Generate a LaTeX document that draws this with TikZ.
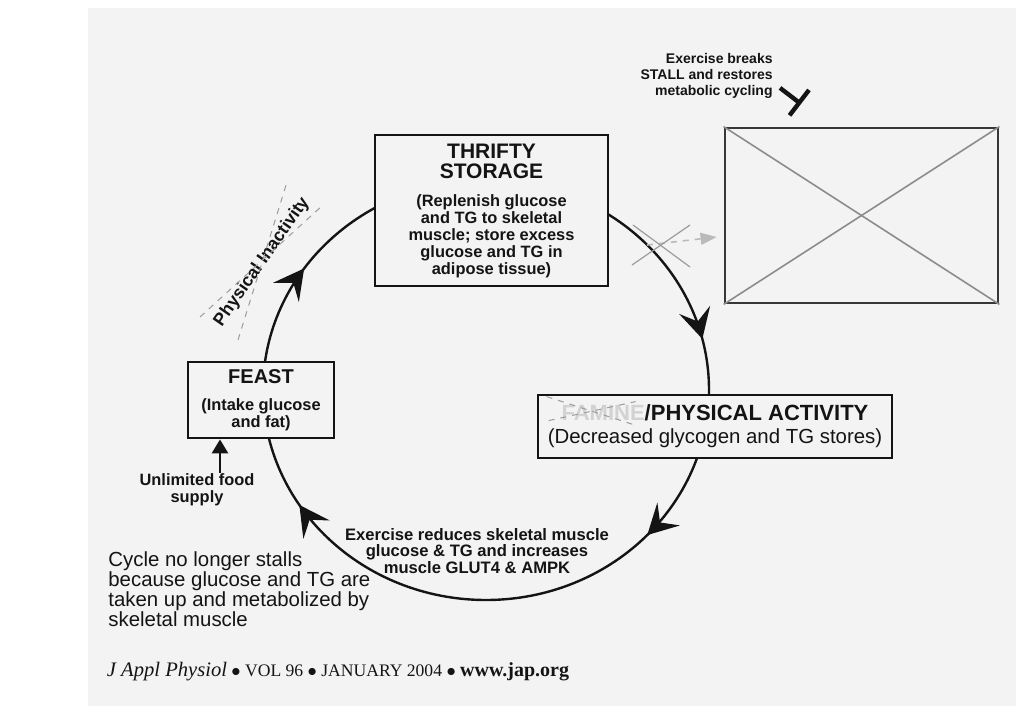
\documentclass[tikz,border=0pt]{standalone}
\usepackage{fontspec}
\setmainfont{Liberation Sans}
\newfontfamily\jfont{Liberation Serif}
\usepackage{tikz}
\usetikzlibrary{
  arrows.meta,
  positioning,
  decorations.markings,
  calc
}
\definecolor{Paper}{HTML}{F3F3F3}
\definecolor{Ink}{HTML}{141414}
\definecolor{Faded}{HTML}{9C9C9C}
\newcommand{\hdfont}[1]{\fontsize{#1}{#1}\selectfont\bfseries}
\tikzset{
  % Cycle arrow head
  cyctip/.tip={Stealth[length=15pt,width=16pt,inset=6pt]},
  % Stage box of the cycle
  stage/.style={
    rectangle, draw=Ink, line width=1.4pt, fill=Paper,
    align=center, inner sep=2pt, text=Ink,
    font=\fontsize{8.2}{8.5}\selectfont\bfseries
  },
  % The cycle itself
  cyc/.style={
    draw=Ink, line width=1.2pt,
    postaction={decorate},
    decoration={markings,
      mark=at position 0.119 with {\arrow{cyctip}},
      mark=at position 0.410 with {\arrow{cyctip}},
      mark=at position 0.596 with {\arrow{cyctip}},
      mark=at position 0.962 with {\arrow{cyctip}}}
  },
  % Plain label
  lbl/.style={text=Ink, align=center, inner sep=0pt,
    font=\fontsize{8.2}{8.5}\selectfont\bfseries},
  % Faded strike-out line
  strike/.style={draw=Faded, dashed, line width=0.5pt},
  % Feeding arrow
  feed/.style={-{Triangle[length=7pt,width=8pt]}, draw=Ink, line width=1.4pt},
  % Blocking bar
  block/.style={-{Bar[width=16pt]}, draw=Ink, line width=2.2pt}
}

\begin{document}
\begin{tikzpicture}[x=0.5pt, y=-0.5pt]

  % ---- PAGE ----
  \useasboundingbox (0,0) rectangle (1016,706);
  \fill[white] (0,0) rectangle (1016,706);
  \fill[Paper] (88,8) rectangle (1016,706);

  % ---- CYCLE ----
  \coordinate (hub) at (486,390);
  \draw[cyc] (hub) ellipse[x radius=223, y radius=210];

  % ---- STAGES ----
  \node[stage, minimum width=116.5pt, minimum height=75.5pt] (thrifty) at (491.5,210.5)
    {\hdfont{10.5}THRIFTY\\[1.5pt]\hdfont{10.5}STORAGE\\[5.5pt]
     (Replenish glucose\\and TG to skeletal\\muscle; store excess\\glucose and TG in\\adipose tissue)};
  \node[stage, minimum width=73pt, minimum height=38pt] (feast) at (261,400)
    {\hdfont{10}FEAST\\[5pt](Intake glucose\\and fat)};
  \node[stage, minimum width=177pt, minimum height=31.5pt,
    font=\fontsize{10.2}{11.5}\selectfont] (physact) at (715,426.5)
    {\hdfont{11}\textcolor{Faded!45}{FAMINE}/PHYSICAL ACTIVITY\\(Decreased glycogen and TG stores)};
  \node[stage, draw=Ink!85, minimum width=136.5pt, minimum height=87.5pt] (stall) at (861.5,215.5) {};

  % ---- LABELS ----
  \node[lbl, rotate=55, font=\fontsize{8.8}{9}\selectfont\bfseries] (inact) at (262,262) {Physical Inactivity};
  \node[lbl] (food) at (197,490) {Unlimited food\\supply};
  \node[lbl, font=\fontsize{8.3}{8.3}\selectfont\bfseries] (exer) at (477,551)
    {Exercise reduces skeletal muscle\\glucose \& TG and increases\\muscle GLUT4 \& AMPK};
  \node[lbl, anchor=north west, align=left, font=\fontsize{10.2}{10}\selectfont] (nostall) at (108,551)
    {Cycle no longer stalls\\because glucose and TG are\\taken up and metabolized by\\skeletal muscle};
  \node[lbl, anchor=north east, align=right, font=\fontsize{7}{8}\selectfont\bfseries] (brk) at (773,53)
    {Exercise breaks\\STALL and restores\\metabolic cycling};
  \node[inner sep=0pt, text=Ink] (cite) at (338,672)
    {\jfont{\fontsize{10.3}{11}\selectfont\itshape J Appl Physiol}%
     {\fontsize{8.8}{11}\selectfont\ $\bullet$ VOL 96 $\bullet$ JANUARY 2004 $\bullet$\ }%
     {\fontsize{10}{11}\selectfont\bfseries www.jap.org}};

  % ---- ARROWS ----
  \draw[feed] ([xshift=11.5pt]food.north) -- ([xshift=11.5pt]food.north |- feast.south);
  \coordinate (blk) at (801,104);
  \draw[block] ([shift={(3.5pt,5.5pt)}]brk.south east) -- (blk);
  \coordinate (leak) at (647,245);
  \draw[-{Triangle[length=8pt,width=6pt]}, draw=Faded!70, dashed, line width=0.8pt]
    (leak) -- ([shift={(-3.5pt,-10.75pt)}]stall.west);

  % ---- STRIKE-OUTS ----
  \draw[strike] ($(inact)+(-62,55)$) -- ($(inact)+(61,-57)$);
  \draw[strike] ($(inact)+(-24,78)$) -- ($(inact)+(25,-80)$);
  \draw[strike] ($(physact.north west)+(10,3)$) -- ($(physact.north west)+(100,32)$);
  \draw[strike] ($(physact.north west)+(12,27)$) -- ($(physact.north west)+(99,8)$);
  \draw[draw=Faded, line width=0.6pt] ($(leak)+(-14,-20)$) -- ($(leak)+(43,22)$);
  \draw[draw=Faded, line width=0.6pt] ($(leak)+(-15,20)$) -- ($(leak)+(43,-20)$);
  \draw[draw=Faded!90!black, line width=0.8pt] (stall.north west) -- (stall.south east);
  \draw[draw=Faded!90!black, line width=0.8pt] (stall.south west) -- (stall.north east);

\end{tikzpicture}
\end{document}
